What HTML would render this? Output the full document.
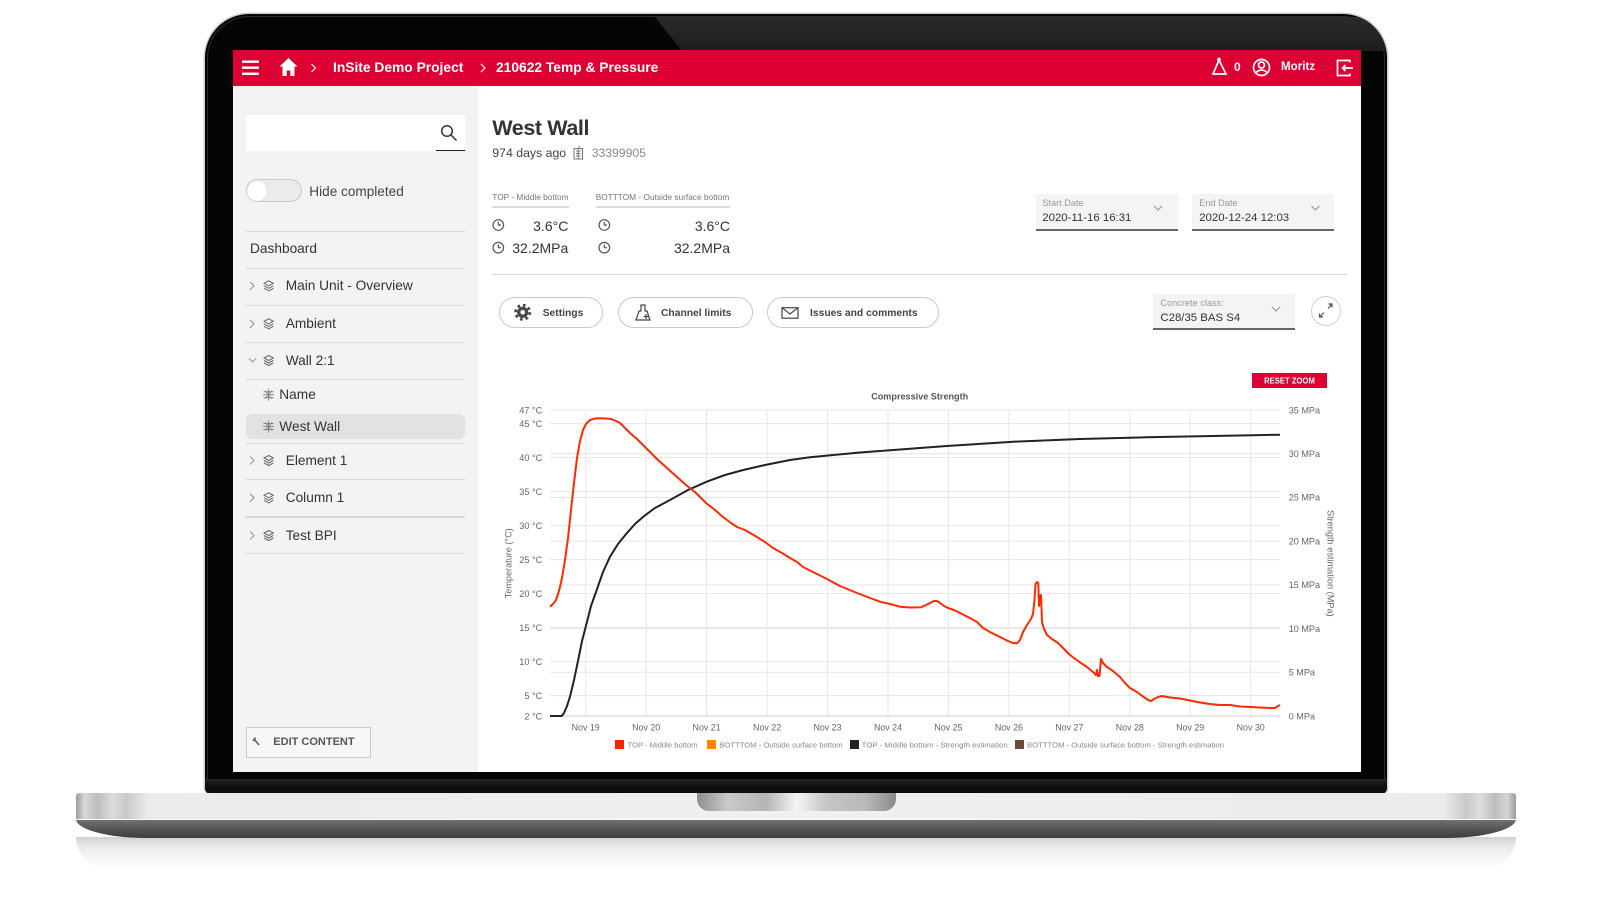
<!DOCTYPE html>
<html><head><meta charset="utf-8">
<style>
*{margin:0;padding:0;box-sizing:border-box}
html,body{width:1600px;height:900px;overflow:hidden;background:#fff}
body{position:relative;font-family:"Liberation Sans",Arial,sans-serif;color:#333}
.a{position:absolute;white-space:nowrap;line-height:1}
.hl{position:absolute;height:1.5px;background:#d8d8d8;left:246px;width:219px}
.sb{font-size:13.7px;color:#333}
.btn{position:absolute;top:297px;height:31px;border:1px solid #c9c9c9;border-radius:16px;background:#fff}
.bt{font-size:10.3px;font-weight:bold;color:#444;top:308.8px}
.db{position:absolute;background:#f4f4f4;border-bottom:2px solid #666}
.dl{font-size:9.2px;color:#9a9a9a}
.dv{font-size:11.4px;color:#333}
</style></head><body>

<!-- reflection under base -->
<div class="a" style="left:76px;top:837px;width:1440px;height:34px;background:linear-gradient(#d2d2d2,#ebebeb 30%,#f6f6f6 60%,#fff 100%);border-radius:0 0 40px 40px"></div>

<!-- laptop frame -->
<div class="a" style="left:205px;top:14px;width:1182px;height:780px;background:#050505;border-radius:44px 44px 6px 6px;box-shadow:0 0 0 1.5px #cfcfcf;overflow:hidden">
  <div class="a" style="left:2px;top:2px;right:2px;bottom:0;border:1.5px solid #2c2c2c;border-radius:42px 42px 6px 6px"></div>
  <div class="a" style="left:0;top:3px;width:1182px;height:34px;background:linear-gradient(#2a2a2a,#1d1d1d);clip-path:polygon(450px 0,1182px 0,1182px 34px,477px 34px)"></div>
  <div class="a" style="left:0;top:765px;width:1182px;height:15px;background:linear-gradient(#262626,#111 40%,#0a0a0a)"></div>
</div>

<!-- base -->
<div class="a" style="left:76px;top:793px;width:1440px;height:45px;border-radius:3px 3px 70px 70px/3px 3px 19px 19px;overflow:hidden">
  <div class="a" style="left:0;top:0;width:1440px;height:26px;background:linear-gradient(to right,#9c9c9c 0,#d9d9d9 0.6%,#bdbdbd 1.5%,#dcdcdc 2.5%,#c9c9c9 3.5%,#ebebeb 5%,#f0f0f0 50%,#ebebeb 95%,#c9c9c9 96.5%,#dedede 97.5%,#bdbdbd 98.5%,#d5d5d5 99.4%,#9c9c9c 100%)"></div>
  <div class="a" style="left:0;top:26px;width:1440px;height:1px;background:#fafafa"></div>
  <div class="a" style="left:0;top:27px;width:1440px;height:18px;background:linear-gradient(#707070,#555 50%,#3d3d3d)"></div>
</div>
<div class="a" style="left:697px;top:793px;width:199px;height:18px;border-radius:0 0 12px 12px;background:linear-gradient(to right,#8d8d8d,#c9c9c9 15%,#b5b5b5 35%,#f5f5f5 50%,#c6c6c6 65%,#b9b9b9 85%,#8a8a8a)"></div>

<!-- screen -->
<div class="a" style="left:233px;top:50px;width:1128px;height:722px;background:#fff"></div>
<div class="a" style="left:233px;top:50px;width:1128px;height:36px;background:#dd0033"></div>
<div class="a" style="left:233px;top:86px;width:245px;height:686px;background:#f3f3f3"></div>

<!-- header text -->
<div class="a" style="left:333px;top:60.9px;font-size:13.8px;font-weight:bold;color:#fff">InSite Demo Project</div>
<div class="a" style="left:496px;top:60.9px;font-size:13.8px;font-weight:bold;color:#fff">210622 Temp &amp; Pressure</div>
<div class="a" style="left:1234px;top:61.4px;font-size:12px;font-weight:bold;color:#fff">0</div>
<div class="a" style="left:1281px;top:61.4px;font-size:11.6px;font-weight:bold;color:#fff">Moritz</div>

<!-- sidebar -->
<div class="a" style="left:246px;top:114.5px;width:219px;height:36px;background:#fff"></div>
<div class="a" style="left:436px;top:150px;width:29px;height:1.2px;background:#222"></div>
<div class="a" style="left:246px;top:179px;width:55.5px;height:23px;border-radius:12px;background:#ebebeb;border:1px solid #c9c9c9"></div>
<div class="a" style="left:246.5px;top:180.5px;width:20px;height:20px;border-radius:50%;background:#fff;box-shadow:0 0 1px #bbb"></div>
<div class="a" style="left:309.3px;top:184.5px;font-size:13.6px;color:#444">Hide completed</div>

<div class="hl" style="top:230.5px"></div>
<div class="hl" style="top:267.5px"></div>
<div class="hl" style="top:304.5px"></div>
<div class="hl" style="top:341.5px"></div>
<div class="hl" style="top:378.5px"></div>
<div class="hl" style="top:442.5px"></div>
<div class="hl" style="top:478.5px"></div>
<div class="hl" style="top:516px"></div>
<div class="hl" style="top:552.5px"></div>
<div class="a" style="left:246px;top:414px;width:219px;height:24.5px;border-radius:6px;background:#e2e2e2"></div>

<div class="a sb" style="left:250px;top:242.2px">Dashboard</div>
<div class="a sb" style="left:285.7px;top:279.2px">Main Unit - Overview</div>
<div class="a sb" style="left:285.7px;top:317.2px">Ambient</div>
<div class="a sb" style="left:285.7px;top:353.9px">Wall 2:1</div>
<div class="a sb" style="left:279.3px;top:388.1px">Name</div>
<div class="a sb" style="left:279.3px;top:419.9px">West Wall</div>
<div class="a sb" style="left:285.7px;top:453.9px">Element 1</div>
<div class="a sb" style="left:285.7px;top:491.2px">Column 1</div>
<div class="a sb" style="left:285.7px;top:528.9px">Test BPI</div>

<div class="a" style="left:246px;top:727px;width:125px;height:31px;border:1px solid #cacaca;background:#f7f7f7"></div>
<div class="a" style="left:273.3px;top:736.7px;font-size:11px;font-weight:bold;color:#555">EDIT CONTENT</div>

<!-- main header -->
<div class="a" style="left:492.3px;top:118.4px;font-size:21.5px;font-weight:bold;color:#333;letter-spacing:-0.4px">West Wall</div>
<div class="a" style="left:492.3px;top:147.1px;font-size:12.3px;color:#444">974 days ago</div>
<div class="a" style="left:591.7px;top:147.1px;font-size:12.2px;color:#888">33399905</div>

<div class="a" style="left:492.3px;top:193.3px;font-size:8.3px;color:#777">TOP - Middle bottom</div>
<div class="a" style="left:595.7px;top:193.3px;font-size:8.3px;color:#777">BOTTTOM - Outside surface bottom</div>
<div class="a" style="left:492px;top:206px;width:76.5px;height:2px;background:#dcdcdc"></div>
<div class="a" style="left:596px;top:206px;width:134px;height:2px;background:#dcdcdc"></div>
<div class="a" style="right:1031.7px;top:219.3px;font-size:14px;color:#333">3.6°C</div>
<div class="a" style="right:1031.7px;top:240.6px;font-size:14px;color:#333">32.2MPa</div>
<div class="a" style="right:870px;top:219.3px;font-size:14px;color:#333">3.6°C</div>
<div class="a" style="right:870px;top:240.6px;font-size:14px;color:#333">32.2MPa</div>

<div class="db" style="left:1036px;top:194px;width:142px;height:37px"></div>
<div class="a dl" style="left:1042.3px;top:198.9px">Start Date</div>
<div class="a dv" style="left:1042.3px;top:212.5px">2020-11-16 16:31</div>
<div class="db" style="left:1192px;top:194px;width:142px;height:37px"></div>
<div class="a dl" style="left:1199.2px;top:198.9px">End Date</div>
<div class="a dv" style="left:1199.2px;top:212.5px">2020-12-24 12:03</div>

<div class="a" style="left:492px;top:273.5px;width:855px;height:1px;background:#d9d9d9"></div>

<div class="btn" style="left:499px;width:104px"></div>
<div class="btn" style="left:618px;width:135px"></div>
<div class="btn" style="left:767px;width:172px"></div>
<div class="a bt" style="left:542.7px">Settings</div>
<div class="a bt" style="left:661px">Channel limits</div>
<div class="a bt" style="left:810px">Issues and comments</div>

<div class="db" style="left:1153px;top:294px;width:142px;height:36px"></div>
<div class="a dl" style="left:1160.4px;top:298.9px">Concrete class:</div>
<div class="a dv" style="left:1160.4px;top:312.8px">C28/35 BAS S4</div>
<div class="a" style="left:1311px;top:296px;width:30px;height:30px;border-radius:50%;border:1px solid #cfcfcf;background:#fff"></div>

<!-- icons + chart -->
<svg class="a" style="left:0;top:0" width="1600" height="900" viewBox="0 0 1600 900" xmlns="http://www.w3.org/2000/svg" font-family="Liberation Sans, Arial, sans-serif">
  <!-- header icons -->
  <g fill="#fff">
    <rect x="242" y="60.5" width="17" height="2.4"/>
    <rect x="242" y="66.5" width="17" height="2.4"/>
    <rect x="242" y="72.6" width="17" height="2.4"/>
    <path d="M288.5,58 L279.5,66.5 L282.5,66.5 L282.5,76 L286.7,76 L286.7,70.5 L290.3,70.5 L290.3,76 L294.5,76 L294.5,66.5 L297.5,66.5 Z"/>
  </g>
  <g fill="none" stroke="#fff" stroke-width="1.3" opacity="0.85">
    <polyline points="311.5,64 315.5,68 311.5,72"/>
    <polyline points="481,64 485,68 481,72"/>
  </g>
  <g fill="none" stroke="#fff" stroke-width="1.7">
    <path d="M1219,60 L1213,74 L1226,74 Z"/>
    <circle cx="1219" cy="59.5" r="1"/>
    <circle cx="1261.5" cy="67.5" r="8"/>
    <circle cx="1261.5" cy="65" r="3"/>
    <path d="M1255.5,73 Q1261.5,67 1267.5,73"/>
    <path d="M1350,62.5 V60.5 H1337.5 V75.5 H1350 V73.5"/>
    <path d="M1353,68 H1342.5 M1345.5,65 L1342.5,68 L1345.5,71"/>
  </g>
  <!-- search -->
  <g fill="none" stroke="#333" stroke-width="1.5">
    <circle cx="447" cy="131" r="5.3"/>
    <line x1="451" y1="135" x2="456.5" y2="140.5"/>
  </g>
  <!-- sidebar icons -->
  <g fill="none" stroke="#999" stroke-width="1.1">
    <polyline points="250,281.8 254,285.8 250,289.8"/>
    <polyline points="250,319.8 254,323.8 250,327.8"/>
    <polyline points="249,358.5 252.5,362 256,358.5"/>
    <polyline points="250,456.5 254,460.5 250,464.5"/>
    <polyline points="250,493.8 254,497.8 250,501.8"/>
    <polyline points="250,531.5 254,535.5 250,539.5"/>
  </g>
  <g fill="none" stroke="#666" stroke-width="1">
    <path d="M264,283.3 L268.7,280.8 L273.3,283.3 L268.7,285.8 Z M264,285.8 L268.7,288.3 L273.3,285.8 M264,288.3 L268.7,290.8 L273.3,288.3"/>
    <path d="M264,321.3 L268.7,318.8 L273.3,321.3 L268.7,323.8 Z M264,323.8 L268.7,326.3 L273.3,323.8 M264,326.3 L268.7,328.8 L273.3,326.3"/>
    <path d="M264,358 L268.7,355.5 L273.3,358 L268.7,360.5 Z M264,360.5 L268.7,363 L273.3,360.5 M264,363 L268.7,365.5 L273.3,363"/>
    <path d="M264,458 L268.7,455.5 L273.3,458 L268.7,460.5 Z M264,460.5 L268.7,463 L273.3,460.5 M264,463 L268.7,465.5 L273.3,463"/>
    <path d="M264,495.3 L268.7,492.8 L273.3,495.3 L268.7,497.8 Z M264,497.8 L268.7,500.3 L273.3,497.8 M264,500.3 L268.7,502.8 L273.3,500.3"/>
    <path d="M264,533 L268.7,530.5 L273.3,533 L268.7,535.5 Z M264,535.5 L268.7,538 L273.3,535.5 M264,538 L268.7,540.5 L273.3,538"/>
  </g>
  <g fill="none" stroke="#888" stroke-width="1">
    <path d="M268.5,388.7 V400.7 M263.5,391.7 H273.5 M263,394.7 H274 M263.5,397.7 H273.5 M265,390.7 L272,398.7 M272,390.7 L265,398.7"/>
    <path d="M268.5,420.5 V432.5 M263.5,423.5 H273.5 M263,426.5 H274 M263.5,429.5 H273.5 M265,422.5 L272,430.5 M272,422.5 L265,430.5"/>
  </g>
  <!-- wrench -->
  <g stroke="#555" stroke-width="1.5" fill="none">
    <path d="M254,739 L259,745 M253,741 L255.5,737.5"/>
  </g>
  <!-- device icon -->
  <g fill="none" stroke="#777" stroke-width="1">
    <rect x="574" y="148.5" width="8.5" height="10.5"/>
    <path d="M576,151 H580.5 M576,153.5 H580.5 M576,156 H580.5 M578.2,148.5 V159 M579,148.5 V145.5"/>
  </g>
  <!-- clocks -->
  <g fill="none" stroke="#555" stroke-width="1.2">
    <circle cx="498.3" cy="225" r="5.3"/><path d="M498.3,221.8 V225 H501.1"/>
    <circle cx="498.3" cy="247.7" r="5.3"/><path d="M498.3,244.5 V247.7 H501.1"/>
    <circle cx="604.3" cy="225" r="5.3"/><path d="M604.3,221.8 V225 H607.1"/>
    <circle cx="604.3" cy="247.7" r="5.3"/><path d="M604.3,244.5 V247.7 H607.1"/>
  </g>
  <!-- button icons -->
  <g transform="translate(522.7,312.3)">
    <circle r="5.6" fill="#4a4a4a"/>
    <circle r="7" fill="none" stroke="#4a4a4a" stroke-width="3" stroke-dasharray="2.6 2.9"/>
    <circle r="2.3" fill="#fff"/>
  </g>
  <g fill="none" stroke="#444" stroke-width="1.2">
    <path d="M636,320 L650,320 L647,311 L645,311 L645,305 L641,305 L641,311 L639,311 Z"/>
    <path d="M646,314 V319 M643.5,316.5 H648.5"/>
    <rect x="782" y="307.7" width="16" height="10.5"/>
    <polyline points="782,307.7 790,314 798,307.7"/>
    <polyline points="1154,206 1158,210 1162,206" stroke="#999"/>
    <polyline points="1311.5,206 1315.5,210 1319.5,206" stroke="#999"/>
    <polyline points="1272,307 1276,311 1280,307" stroke="#999"/>
    <path d="M1322,314.5 L1319.5,317 M1319.5,313.5 V317 H1323 M1329.5,306.5 L1332,304 M1328.5,304 H1332 V307.5" stroke="#555"/>
    <line x1="1320" y1="316.5" x2="1324" y2="312.5" stroke="#555"/>
    <line x1="1328" y1="308.5" x2="1331.5" y2="305" stroke="#555"/>
  </g>

  <!-- ===== CHART ===== -->
  <g stroke="#e6e6e6" stroke-width="1">
    <line x1="550" y1="410" x2="1280" y2="410"/>
    <line x1="550" y1="423.6" x2="1280" y2="423.6"/>
    <line x1="550" y1="457.6" x2="1280" y2="457.6"/>
    <line x1="550" y1="491.6" x2="1280" y2="491.6"/>
    <line x1="550" y1="525.6" x2="1280" y2="525.6"/>
    <line x1="550" y1="559.6" x2="1280" y2="559.6"/>
    <line x1="550" y1="593.6" x2="1280" y2="593.6"/>
    <line x1="550" y1="627.6" x2="1280" y2="627.6"/>
    <line x1="550" y1="661.6" x2="1280" y2="661.6"/>
    <line x1="550" y1="695.6" x2="1280" y2="695.6"/>
    <line x1="550" y1="453.7" x2="1280" y2="453.7"/>
    <line x1="550" y1="497.4" x2="1280" y2="497.4"/>
    <line x1="550" y1="541.1" x2="1280" y2="541.1"/>
    <line x1="550" y1="584.9" x2="1280" y2="584.9"/>
    <line x1="550" y1="628.6" x2="1280" y2="628.6"/>
    <line x1="550" y1="672.3" x2="1280" y2="672.3"/>
    <line x1="585.7" y1="410" x2="585.7" y2="716"/>
    <line x1="646.2" y1="410" x2="646.2" y2="716"/>
    <line x1="706.6" y1="410" x2="706.6" y2="716"/>
    <line x1="767.1" y1="410" x2="767.1" y2="716"/>
    <line x1="827.5" y1="410" x2="827.5" y2="716"/>
    <line x1="888" y1="410" x2="888" y2="716"/>
    <line x1="948.4" y1="410" x2="948.4" y2="716"/>
    <line x1="1008.9" y1="410" x2="1008.9" y2="716"/>
    <line x1="1069.3" y1="410" x2="1069.3" y2="716"/>
    <line x1="1129.8" y1="410" x2="1129.8" y2="716"/>
    <line x1="1190.2" y1="410" x2="1190.2" y2="716"/>
    <line x1="1250.7" y1="410" x2="1250.7" y2="716"/>
  </g>
  <line x1="550" y1="716" x2="1280" y2="716" stroke="#cccccc" stroke-width="1"/>

  <g font-size="9.2" fill="#666" text-anchor="end">
    <text x="542.3" y="413.3">47 °C</text>
    <text x="542.3" y="426.9">45 °C</text>
    <text x="542.3" y="460.9">40 °C</text>
    <text x="542.3" y="494.9">35 °C</text>
    <text x="542.3" y="528.9">30 °C</text>
    <text x="542.3" y="562.9">25 °C</text>
    <text x="542.3" y="596.9">20 °C</text>
    <text x="542.3" y="630.9">15 °C</text>
    <text x="542.3" y="664.9">10 °C</text>
    <text x="542.3" y="698.9">5 °C</text>
    <text x="542.3" y="719.3">2 °C</text>
  </g>
  <g font-size="9.1" fill="#666">
    <text x="1288.7" y="413.3">35 MPa</text>
    <text x="1288.7" y="457">30 MPa</text>
    <text x="1288.7" y="500.7">25 MPa</text>
    <text x="1288.7" y="544.4">20 MPa</text>
    <text x="1288.7" y="588.2">15 MPa</text>
    <text x="1288.7" y="631.9">10 MPa</text>
    <text x="1288.7" y="675.6">5 MPa</text>
    <text x="1288.7" y="719.3">0 MPa</text>
  </g>
  <g font-size="8.9" fill="#666" text-anchor="middle">
    <text x="585.7" y="730.5">Nov 19</text>
    <text x="646.2" y="730.5">Nov 20</text>
    <text x="706.6" y="730.5">Nov 21</text>
    <text x="767.1" y="730.5">Nov 22</text>
    <text x="827.5" y="730.5">Nov 23</text>
    <text x="888" y="730.5">Nov 24</text>
    <text x="948.4" y="730.5">Nov 25</text>
    <text x="1008.9" y="730.5">Nov 26</text>
    <text x="1069.3" y="730.5">Nov 27</text>
    <text x="1129.8" y="730.5">Nov 28</text>
    <text x="1190.2" y="730.5">Nov 29</text>
    <text x="1250.7" y="730.5">Nov 30</text>
  </g>
  <text x="508.3" y="563.3" font-size="9" fill="#666" text-anchor="middle" transform="rotate(-90 508.3 563.3)" dy="3" textLength="70" lengthAdjust="spacingAndGlyphs">Temperature (°C)</text>
  <text x="1330.7" y="563.3" font-size="9" fill="#666" text-anchor="middle" transform="rotate(90 1330.7 563.3)" dy="3" textLength="106.7" lengthAdjust="spacingAndGlyphs">Strength estimation (MPa)</text>
  <text x="919.7" y="399.3" font-size="9.2" font-weight="bold" fill="#555" text-anchor="middle" textLength="97" lengthAdjust="spacingAndGlyphs">Compressive Strength</text>

  <rect x="1252" y="373" width="75" height="15" fill="#dd0033"/>
  <text x="1289.5" y="383.3" font-size="7.8" font-weight="bold" fill="#fff" text-anchor="middle" textLength="50.7" lengthAdjust="spacingAndGlyphs">RESET ZOOM</text>

  <!-- strength (black) -->
  <polyline fill="none" stroke="#222" stroke-width="2" stroke-linejoin="round" points="550,716 561.7,716 564,713 567,706 570,696.7 574,680 578,661 582,641 586.7,623 591,606 596.7,590 603,572 610,556.7 618,544 626.7,533.3 635,524 643.3,516.7 655,508 670,500 688,490 706.7,481.7 725,475 743.3,470 765,465 790,460 810,457.3 833.3,455 860,452.5 890,450.3 946.7,446 1013.3,441.7 1080,439 1146.7,437.3 1213.3,436 1280,434.7"/>

  <!-- temperature (red) -->
  <polyline fill="none" stroke="#ff2a00" stroke-width="2" stroke-linejoin="round" points="550,606.7 553,604 556,600 559,591 562,578 565,560 568,538 571,510 574,483 577,458 580,441 583,430 586,424 590,420 595,418.5 600,418.3 606,418.5 611,419 616,421 620,423 625,428 630,433 637,439 643,445 650,452 658,460 667,468 677,477 686,485 695,492 706,503 715,510 723,517 731,523 737,527 745,530 757,537 765,542 773,548 782,553 790,558 797,562 803,567 815,573 827,579 840,586 857,593 870,598 880,601.7 890,604 900,606.7 910,607.5 921,607.3 926,605 930,603 934,601 937,601 940,603 944,606 948,608 954,610 960,613 968,617 977,622 983,628 990,632 1000,637 1008,641 1013,643 1017,643.3 1020,640 1023,632 1027,625 1031,619 1033,614 1034.5,600 1035.5,584 1037,582 1038.3,583 1039,606 1040,596 1041,595 1042,622 1044,629 1047,635 1052,639 1058,643 1064,649 1070,655 1078,661 1087,667 1093,672 1096,675 1097,670 1098,676 1099.5,676 1101,659 1103,663 1107,667 1113,671 1120,677 1125,683 1130,688 1137,692 1143,696.5 1148,700 1151,701 1154,699 1158,697 1162,696 1170,697.5 1180,698.5 1190,700.5 1200,702.5 1210,704 1220,705 1230,705 1240,706.5 1250,707 1260,707.5 1270,708 1275,708 1278,706 1280,705"/>

  <!-- legend -->
  <rect x="615" y="740" width="9" height="9" fill="#ff2200"/>
  <rect x="707" y="740" width="9" height="9" fill="#ff8800"/>
  <rect x="850" y="740" width="9" height="9" fill="#222"/>
  <rect x="1015" y="740" width="9" height="9" fill="#6b4a38"/>
  <g font-size="7.6" fill="#888">
    <text x="627.5" y="747.3" textLength="70" lengthAdjust="spacingAndGlyphs">TOP - Middle bottom</text>
    <text x="719.3" y="747.3" textLength="123.4" lengthAdjust="spacingAndGlyphs">BOTTTOM - Outside surface bottom</text>
    <text x="861.7" y="747.3" textLength="146" lengthAdjust="spacingAndGlyphs">TOP - Middle bottom  - Strength estimation</text>
    <text x="1027" y="747.3" textLength="197" lengthAdjust="spacingAndGlyphs">BOTTTOM - Outside surface bottom - Strength estimation</text>
  </g>
</svg>
</body></html>
